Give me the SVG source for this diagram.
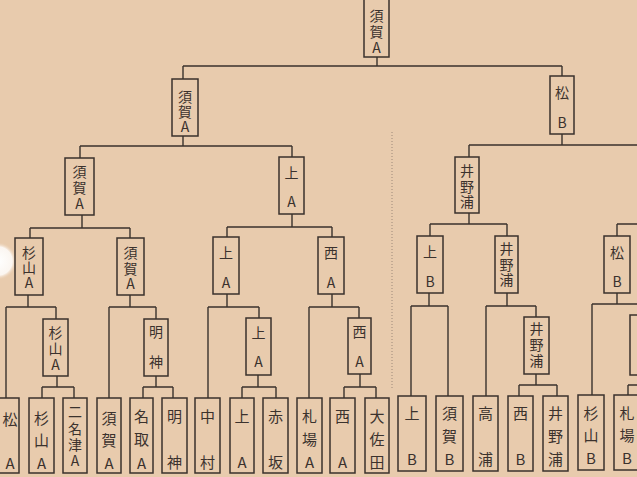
<svg xmlns="http://www.w3.org/2000/svg" width="637" height="477" viewBox="0 0 637 477">
<defs>
<style>
.bg{fill:#e8cbad}
.b{fill:none;stroke:#3a322d;stroke-width:1.5}
.c{fill:none;stroke:#3a322d;stroke-width:1.4}
.t{font-family:"Noto Sans CJK JP","Noto Sans",sans-serif;font-size:14px;fill:#3b322d;writing-mode:vertical-rl;text-orientation:upright}
.l{font-size:15px}
.dot{fill:none;stroke:#8a7a6c;stroke-width:0.8;stroke-dasharray:1 2}
</style>
<radialGradient id="hole">
<stop offset="0" stop-color="#ffffff"/>
<stop offset="0.75" stop-color="#fbf6f1"/>
<stop offset="1" stop-color="#e8cbad" stop-opacity="0"/>
</radialGradient>
</defs>
<rect class="bg" x="0" y="0" width="637" height="477"/>
<line class="dot" x1="392" y1="132" x2="392" y2="390"/>
<circle cx="-2" cy="261" r="19" fill="url(#hole)"/>

<g id="connectors">
<path class="c" d="M377 57V66M183 66H562"/>
<path class="c" d="M183 66V79M562 66V76"/>
<path class="c" d="M183 136V146M80 146H292M80 146V158M292 146V157"/>
<path class="c" d="M562 134V145M469 145H640M469 145V157"/>
<path class="c" d="M82 215V228M30 228H130M30 228V238M130 228V238"/>
<path class="c" d="M292 214V227M227 227H332M227 227V237M332 227V237"/>
<path class="c" d="M469 213V224M430 224H507M430 224V236M507 224V236"/>
<path class="c" d="M617 224H640M617 224V236"/>
<path class="c" d="M28 295V307M6 307H56M6 307V398M56 307V319"/>
<path class="c" d="M130 295V307M109 307H156M109 307V398M156 307V319"/>
<path class="c" d="M227 294V307M208 307H259M208 307V398M259 307V318"/>
<path class="c" d="M332 294V307M309 307H359M309 307V398M359 307V318"/>
<path class="c" d="M429 293V306M411 306H448M411 306V396M448 306V396"/>
<path class="c" d="M507 293V306M486 306H536M486 306V396M536 306V317"/>
<path class="c" d="M617 293V304M592 304H640M592 304V395"/>
<path class="c" d="M57 376V387M42 387H74M42 387V398M74 387V398"/>
<path class="c" d="M156 376V387M143 387H173M143 387V398M173 387V398"/>
<path class="c" d="M258 375V387M242 387H276M242 387V398M276 387V398"/>
<path class="c" d="M360 374V387M344 387H376M344 387V398M376 387V398"/>
<path class="c" d="M536 374V385M519 385H557M519 385V396M557 385V396"/>
<path class="c" d="M628 385H640M628 385V395"/>
</g>

<g id="n-final"><rect class="b" x="364" y="-2" width="25" height="59"/>
<text class="t" x="376.5" y="9"><tspan letter-spacing="2">須賀</tspan>A</text></g>

<g id="n-l2a"><rect class="b" x="172" y="79" width="26" height="57"/>
<text class="t" x="185" y="90"><tspan letter-spacing="1">須賀</tspan>A</text></g>
<g id="n-l2b"><rect class="b" x="550" y="76" width="24" height="58"/>
<text class="t" x="562" y="86"><tspan letter-spacing="16">松</tspan>B</text></g>

<g id="n-l3a"><rect class="b" x="65" y="158" width="29" height="57"/>
<text class="t" x="79.5" y="165"><tspan letter-spacing="2">須賀</tspan>A</text></g>
<g id="n-l3b"><rect class="b" x="279" y="157" width="25" height="57"/>
<text class="t" x="291.5" y="166"><tspan letter-spacing="15">上</tspan>A</text></g>
<g id="n-l3c"><rect class="b" x="455" y="157" width="24" height="56"/>
<text class="t" x="467" y="164"><tspan letter-spacing="1.5">井野</tspan>浦</text></g>

<g id="n-l4a"><rect class="b" x="15" y="238" width="28" height="57"/>
<text class="t" x="29" y="246"><tspan letter-spacing="1">杉山</tspan>A</text></g>
<g id="n-l4b"><rect class="b" x="117" y="238" width="27" height="57"/>
<text class="t" x="130.5" y="246"><tspan letter-spacing="1.5">須賀</tspan>A</text></g>
<g id="n-l4c"><rect class="b" x="213" y="237" width="26" height="57"/>
<text class="t" x="226" y="246"><tspan letter-spacing="16">上</tspan>A</text></g>
<g id="n-l4d"><rect class="b" x="318" y="237" width="26" height="57"/>
<text class="t" x="331" y="246"><tspan letter-spacing="16">西</tspan>A</text></g>
<g id="n-l4e"><rect class="b" x="417" y="236" width="26" height="57"/>
<text class="t" x="430" y="245"><tspan letter-spacing="16">上</tspan>B</text></g>
<g id="n-l4f"><rect class="b" x="495" y="236" width="23" height="57"/>
<text class="t" x="506.5" y="242"><tspan letter-spacing="1.5">井野</tspan>浦</text></g>
<g id="n-l4g"><rect class="b" x="604" y="236" width="26" height="57"/>
<text class="t" x="617" y="246"><tspan letter-spacing="15">松</tspan>B</text></g>

<g id="n-l5a"><rect class="b" x="43" y="319" width="25" height="57"/>
<text class="t" x="55.5" y="326"><tspan letter-spacing="2">杉山</tspan>A</text></g>
<g id="n-l5b"><rect class="b" x="144" y="319" width="24" height="57"/>
<text class="t" x="156" y="325"><tspan letter-spacing="16">明</tspan>神</text></g>
<g id="n-l5c"><rect class="b" x="246" y="318" width="25" height="57"/>
<text class="t" x="258.5" y="326"><tspan letter-spacing="15">上</tspan>A</text></g>
<g id="n-l5d"><rect class="b" x="348" y="318" width="23" height="56"/>
<text class="t" x="359.5" y="325"><tspan letter-spacing="16">西</tspan>A</text></g>
<g id="n-l5e"><rect class="b" x="524" y="317" width="25" height="57"/>
<text class="t" x="536.5" y="322"><tspan letter-spacing="2">井野</tspan>浦</text></g>
<g id="n-l5f"><rect class="b" x="630" y="315" width="30" height="60"/></g>

<g id="leaf1"><rect class="b" x="-5" y="398" width="24" height="75"/>
<text class="t l" x="10" y="411.5"><tspan letter-spacing="29">松</tspan>A</text></g>
<g id="leaf2"><rect class="b" x="29" y="398" width="25" height="75"/>
<text class="t l" x="41.5" y="410.5"><tspan letter-spacing="7.5">杉山</tspan>A</text></g>
<g id="leaf3"><rect class="b" x="63" y="398" width="24" height="75"/>
<text class="t" x="75" y="405"><tspan letter-spacing="2.3">二名津</tspan>A</text></g>
<g id="leaf4"><rect class="b" x="97" y="398" width="24" height="75"/>
<text class="t l" x="109" y="410.5"><tspan letter-spacing="7.5">須賀</tspan>A</text></g>
<g id="leaf5"><rect class="b" x="130" y="398" width="23" height="75"/>
<text class="t l" x="141.5" y="408.5"><tspan letter-spacing="8.5">名取</tspan>A</text></g>
<g id="leaf6"><rect class="b" x="162" y="398" width="25" height="75"/>
<text class="t l" x="174.5" y="408.5"><tspan letter-spacing="31">明</tspan>神</text></g>
<g id="leaf7"><rect class="b" x="195" y="398" width="25" height="75"/>
<text class="t l" x="207.5" y="408.5"><tspan letter-spacing="31">中</tspan>村</text></g>
<g id="leaf8"><rect class="b" x="230" y="398" width="24" height="75"/>
<text class="t l" x="242" y="408.5"><tspan letter-spacing="31">上</tspan>A</text></g>
<g id="leaf9"><rect class="b" x="263" y="398" width="25" height="75"/>
<text class="t l" x="275.5" y="408.5"><tspan letter-spacing="31">赤</tspan>坂</text></g>
<g id="leaf10"><rect class="b" x="297" y="398" width="25" height="75"/>
<text class="t l" x="309.5" y="408.5"><tspan letter-spacing="8">札場</tspan>A</text></g>
<g id="leaf11"><rect class="b" x="330" y="398" width="25" height="75"/>
<text class="t l" x="342.5" y="408.5"><tspan letter-spacing="31">西</tspan>A</text></g>
<g id="leaf12"><rect class="b" x="365" y="398" width="24" height="75"/>
<text class="t l" x="377" y="408.5"><tspan letter-spacing="8">大佐</tspan>田</text></g>
<g id="leaf13"><rect class="b" x="398" y="396" width="28" height="75"/>
<text class="t l" x="412" y="405.5"><tspan letter-spacing="31">上</tspan>B</text></g>
<g id="leaf14"><rect class="b" x="436" y="396" width="27" height="75"/>
<text class="t l" x="449.5" y="405.5"><tspan letter-spacing="8">須賀</tspan>B</text></g>
<g id="leaf15"><rect class="b" x="473" y="396" width="25" height="75"/>
<text class="t l" x="485.5" y="405.5"><tspan letter-spacing="31">高</tspan>浦</text></g>
<g id="leaf16"><rect class="b" x="508" y="396" width="25" height="75"/>
<text class="t l" x="520.5" y="405.5"><tspan letter-spacing="31">西</tspan>B</text></g>
<g id="leaf17"><rect class="b" x="543" y="396" width="25" height="75"/>
<text class="t l" x="555.5" y="405.5"><tspan letter-spacing="8">井野</tspan>浦</text></g>
<g id="leaf18"><rect class="b" x="578" y="395" width="26" height="75"/>
<text class="t l" x="591" y="405.5"><tspan letter-spacing="7.5">杉山</tspan>B</text></g>
<g id="leaf19"><rect class="b" x="614" y="395" width="30" height="75"/>
<text class="t l" x="627" y="405.5"><tspan letter-spacing="7.5">札場</tspan>B</text></g>
</svg>
